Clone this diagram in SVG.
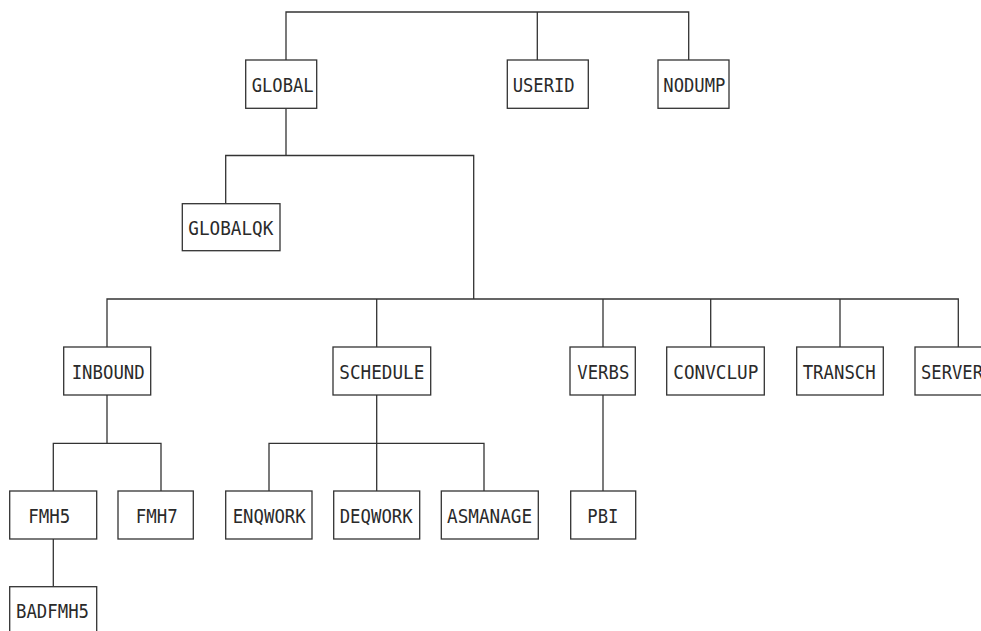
<svg xmlns="http://www.w3.org/2000/svg" width="981" height="631" viewBox="0 0 981 631">
<style>
.bg{fill:#ffffff}
.node rect{fill:#ffffff;stroke:#333333;stroke-width:1.3}
.node text{font-family:"DejaVu Sans Mono","Liberation Mono",monospace;font-size:20px;fill:#2a2a2a}
#connectors path{fill:none;stroke:#333333;stroke-width:1.3}
</style>
<rect class="bg" x="0" y="0" width="981" height="631"/>
<g id="connectors">
<path d="M286,60 V12 H688.7 V60 M537.3,12 V60"/>
<path d="M286,108.3 V155.5 M225.7,203.7 V155.5 H473.7 V299"/>
<path d="M107,347 V299 H958.3 V347 M376.7,299 V347 M603,299 V347 M710.7,299 V347 M840,299 V347"/>
<path d="M107,395 V443.3 M53.3,491 V443.3 H161 V491"/>
<path d="M376.7,395 V491 M269,491 V443.3 H484 V491"/>
<path d="M603,395 V491"/>
<path d="M53.3,539 V586.7"/>
</g>
<g id="n-global" class="node"><rect x="245.7" y="60" width="71" height="48.3"/><text x="251.7" y="91.7" textLength="62" lengthAdjust="spacingAndGlyphs">GLOBAL</text></g>
<g id="n-userid" class="node"><rect x="507.3" y="60" width="81" height="48.3"/><text x="512.7" y="91.7" textLength="62" lengthAdjust="spacingAndGlyphs">USERID</text></g>
<g id="n-nodump" class="node"><rect x="658" y="60" width="71" height="48.3"/><text x="663.3" y="91.7" textLength="62" lengthAdjust="spacingAndGlyphs">NODUMP</text></g>
<g id="n-globalqk" class="node"><rect x="182.3" y="203.7" width="97.7" height="47"/><text x="188.3" y="235" textLength="85" lengthAdjust="spacingAndGlyphs">GLOBALQK</text></g>
<g id="n-inbound" class="node"><rect x="63.7" y="347" width="87" height="48"/><text x="71.7" y="378.5" textLength="73" lengthAdjust="spacingAndGlyphs">INBOUND</text></g>
<g id="n-schedule" class="node"><rect x="333" y="347" width="97.7" height="48"/><text x="339.3" y="378.5" textLength="85" lengthAdjust="spacingAndGlyphs">SCHEDULE</text></g>
<g id="n-verbs" class="node"><rect x="570" y="347" width="65.3" height="48"/><text x="577.3" y="378.5" textLength="52" lengthAdjust="spacingAndGlyphs">VERBS</text></g>
<g id="n-convclup" class="node"><rect x="666.7" y="347" width="97.6" height="48"/><text x="673.3" y="378.5" textLength="85" lengthAdjust="spacingAndGlyphs">CONVCLUP</text></g>
<g id="n-transch" class="node"><rect x="796.7" y="347" width="86.6" height="48"/><text x="802.7" y="378.5" textLength="73" lengthAdjust="spacingAndGlyphs">TRANSCH</text></g>
<g id="n-server" class="node"><rect x="915" y="347" width="86.6" height="48"/><text x="921" y="378.5" textLength="62" lengthAdjust="spacingAndGlyphs">SERVER</text></g>
<g id="n-fmh5" class="node"><rect x="9.7" y="491" width="87" height="48"/><text x="28.3" y="522.5" textLength="42" lengthAdjust="spacingAndGlyphs">FMH5</text></g>
<g id="n-fmh7" class="node"><rect x="118" y="491" width="75.3" height="48"/><text x="135.7" y="522.5" textLength="42" lengthAdjust="spacingAndGlyphs">FMH7</text></g>
<g id="n-enqwork" class="node"><rect x="225.7" y="491" width="86.3" height="48"/><text x="232.7" y="522.5" textLength="73" lengthAdjust="spacingAndGlyphs">ENQWORK</text></g>
<g id="n-deqwork" class="node"><rect x="333.7" y="491" width="86" height="48"/><text x="339.7" y="522.5" textLength="73" lengthAdjust="spacingAndGlyphs">DEQWORK</text></g>
<g id="n-asmanage" class="node"><rect x="441.3" y="491" width="97" height="48"/><text x="447" y="522.5" textLength="85" lengthAdjust="spacingAndGlyphs">ASMANAGE</text></g>
<g id="n-pbi" class="node"><rect x="570.7" y="491" width="65" height="48"/><text x="587.3" y="522.5" textLength="31" lengthAdjust="spacingAndGlyphs">PBI</text></g>
<g id="n-badfmh5" class="node"><rect x="9.7" y="586.7" width="87" height="48"/><text x="16" y="618.2" textLength="73" lengthAdjust="spacingAndGlyphs">BADFMH5</text></g>
</svg>
